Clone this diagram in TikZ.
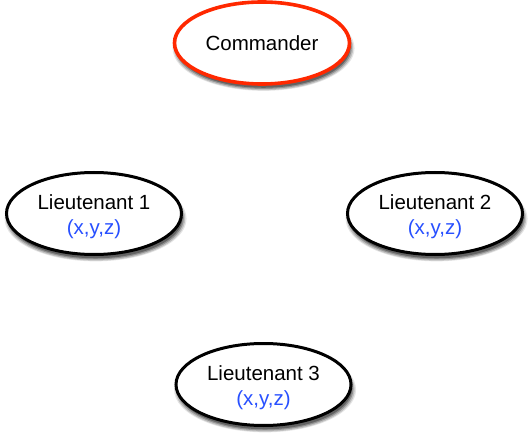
\documentclass[tikz,border=0pt]{standalone}
\usepackage{fontspec}
\setmainfont{Liberation Sans}
\usetikzlibrary{shapes.geometric,shadows}
\definecolor{cmdred}{RGB}{255,40,0}
\definecolor{coordblue}{RGB}{40,80,255}
\tikzset{
  softshadow/.style={
    general shadow={shadow xshift=1.5pt,shadow yshift=-5pt,shadow scale=1.04,fill=black,opacity=0.10},
    general shadow={shadow xshift=1.5pt,shadow yshift=-5pt,shadow scale=1.025,fill=black,opacity=0.16},
    general shadow={shadow xshift=1.5pt,shadow yshift=-4.5pt,shadow scale=1.01,fill=black,opacity=0.24},
    general shadow={shadow xshift=1.5pt,shadow yshift=-4pt,shadow scale=0.995,fill=black,opacity=0.32}
  },
  general/.style={ellipse,draw=black,line width=3pt,fill=white,softshadow,
    minimum width=175pt,minimum height=82pt,inner sep=0pt},
  leader/.style={general,draw=cmdred,line width=3.6pt,
    font=\fontsize{20.5}{25}\selectfont},
  lttext/.style={align=center,inner sep=0pt,font=\fontsize{20.5}{25}\selectfont}
}
\begin{document}
\begin{tikzpicture}[x=1pt,y=-1pt]
  \useasboundingbox (0,0) rectangle (528,433);
  \node[leader] (cmd) at (262,43) {Commander};
  \node[general] (lt1) at (94,213.5) {};
  \node[general] (lt2) at (435,213.5) {};
  \node[general] (lt3) at (263.5,384.5) {};
  \node[lttext,yshift=-3.5pt] (lt1txt) at (lt1.center) {Lieutenant 1\\\textcolor{coordblue}{(x,y,z)}};
  \node[lttext,yshift=-3.5pt] (lt2txt) at (lt2.center) {Lieutenant 2\\\textcolor{coordblue}{(x,y,z)}};
  \node[lttext,yshift=-3.5pt] (lt3txt) at (lt3.center) {Lieutenant 3\\\textcolor{coordblue}{(x,y,z)}};
\end{tikzpicture}
\end{document}
